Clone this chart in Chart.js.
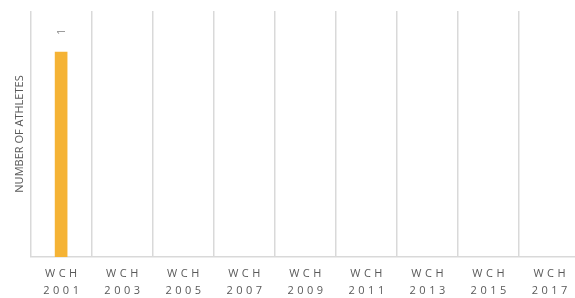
<!DOCTYPE html>
<html>
<head>
<meta charset="utf-8">
<script src="https://cdn.jsdelivr.net/npm/chart.js@4/dist/chart.umd.min.js"></script>
<style>
  html, body { margin: 0; padding: 0; background: #fff; overflow: hidden; }
  #wrap { width: 580px; height: 308px; }
</style>
</head>
<body>
<div id="wrap"><canvas id="chart"></canvas></div>
<script>
// Chart data
const eventPrefix = 'WCH';
const years = ['2001', '2003', '2005', '2007', '2009', '2011', '2013', '2015', '2017'];
const athletes = [1, null, null, null, null, null, null, null, null];
const yMax = 1.2;

const labels = years.map(y => [eventPrefix, y]);

// Letter-spaced category labels (Excel style)
const spacedTicks = {
    id: 'spacedTicks',
    beforeDraw(chart) {
        const s = chart.scales.x;
        if (s._spaced) return;
        const orig = s.drawLabels;
        s.drawLabels = function (area) {
            const c = this.ctx;
            c.save();
            c.letterSpacing = '3.5px';
            c.translate(1.75, 0);
            orig.call(this, area);
            c.restore();
        };
        s._spaced = true;
    }
};

// Rotated value labels above bars
const valueLabels = {
    id: 'valueLabels',
    afterDatasetsDraw(chart) {
        const ctx = chart.ctx;
        const meta = chart.getDatasetMeta(0);
        meta.data.forEach((bar, i) => {
            const v = athletes[i];
            if (v === null || v === undefined) return;
            ctx.save();
            ctx.translate(bar.x + 1, bar.y - 20);
            ctx.rotate(-Math.PI / 2);
            ctx.font = '10px "Open Sans"';
            ctx.fillStyle = '#7f7f7f';
            ctx.textAlign = 'center';
            ctx.textBaseline = 'middle';
            ctx.fillText(String(v), 0, 0);
            ctx.restore();
        });
    }
};

new Chart(document.getElementById('chart').getContext('2d'), {
    type: 'bar',
    data: {
        labels: labels,
        datasets: [{
            label: 'Number of athletes',
            data: athletes,
            backgroundColor: '#f5b335',
            barThickness: 12
        }]
    },
    options: {
        responsive: true,
        maintainAspectRatio: false,
        animation: false,
        layout: { padding: { top: 11, left: 0, right: 0, bottom: 0 } },
        plugins: {
            legend: { display: false },
            tooltip: { enabled: false }
        },
        scales: {
            x: {
                grid: {
                    offset: true,
                    color: '#d9d9d9',
                    lineWidth: 1.5,
                    drawTicks: false
                },
                border: { display: true, color: '#d9d9d9', width: 1.5 },
                ticks: {
                    color: '#595959',
                    padding: 9,
                    maxRotation: 0,
                    autoSkip: false,
                    font: { family: '"Open Sans"', size: 11, lineHeight: 1.5 }
                }
            },
            y: {
                min: 0,
                max: yMax,
                grid: { display: false },
                border: { display: false },
                ticks: { display: false },
                title: {
                    display: true,
                    text: 'NUMBER OF ATHLETES',
                    color: '#595959',
                    padding: { top: 14, bottom: -3.5 },
                    font: { family: '"Open Sans"', size: 11, lineHeight: 1.1 }
                }
            }
        }
    },
    plugins: [spacedTicks, valueLabels]
});
</script>
</body>
</html>
